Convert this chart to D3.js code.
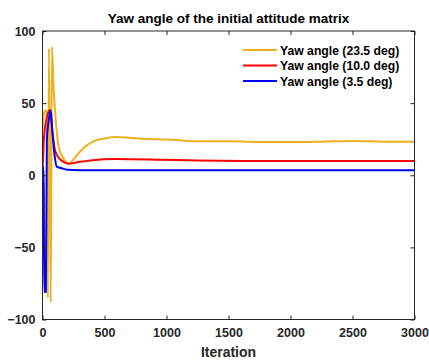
<!DOCTYPE html>
<html><head><meta charset="utf-8">
<script src="https://cdn.jsdelivr.net/npm/d3@7"></script>
<style>body{margin:0;background:#fff}svg{display:block}</style>
</head><body><div id="chart"></div>
<script>
const title = "Yaw angle of the initial attitude matrix";
const xLabel = "Iteration";
const xTicks = [0, 500, 1000, 1500, 2000, 2500, 3000];
const yTicks = [-100, -50, 0, 50, 100];
const seriesNames = ["Yaw angle (23.5 deg)", "Yaw angle (10.0 deg)", "Yaw angle (3.5 deg)"];
const seriesColors = ["#EDB120", "#FF0000", "#0000FF"];

const yawIter235 = [0, 10, 25, 35, 43, 52, 67, 76, 90, 110, 130, 160, 200, 215, 260, 320, 400, 500, 600, 700, 800, 1000, 1250, 1500, 1800, 2000, 2250, 2500, 2800, 3000];
const yawVal235  = [30, 42, 45, 43, -85, 88, -88, 89, 60, 35, 20, 13, 8.5, 8, 12, 18, 23, 25.5, 26.5, 26, 25.3, 24.8, 23.5, 23.5, 23, 23, 23.3, 23.8, 23.2, 23.3];

const yawIter100 = [0, 5, 10, 35, 60, 80, 102, 155, 212, 300, 386, 587, 950, 1250, 1750, 2250, 3000];
const yawVal100  = [5, 12, 24, 40, 45, 30, 17, 10, 8, 9.3, 10.3, 11.3, 10.8, 10.2, 9.9, 9.9, 9.9];

const yawIter35 = [0, 6, 10, 14, 27, 35, 50, 66, 80, 100, 115, 150, 200, 300, 1000, 2000, 3000];
const yawVal35  = [2, 6, -8, -81, -81, 24, 38, 45, 30, 12, 6, 5, 3.8, 3.5, 3.5, 3.5, 3.5];

const series = [
  {name: seriesNames[0], color: seriesColors[0], pts: yawIter235.map((x, i) => ({x, y: yawVal235[i]}))},
  {name: seriesNames[1], color: seriesColors[1], pts: yawIter100.map((x, i) => ({x, y: yawVal100[i]}))},
  {name: seriesNames[2], color: seriesColors[2], pts: yawIter35.map((x, i) => ({x, y: yawVal35[i]}))}
];

const W = 429, H = 360;
const m = {left: 42.5, right: 14.5, top: 31, bottom: 40.5};
const iw = W - m.left - m.right, ih = H - m.top - m.bottom;
const font = "'Liberation Sans', Arial, sans-serif";
const axisColor = "#262626";

const svg = d3.select("#chart").append("svg").attr("width", W).attr("height", H);
const x = d3.scaleLinear().domain([0, 3000]).range([m.left, m.left + iw]);
const y = d3.scaleLinear().domain([-100, 100]).range([m.top + ih, m.top]);

svg.append("defs").append("clipPath").attr("id", "clip")
  .append("rect").attr("x", m.left).attr("y", m.top).attr("width", iw).attr("height", ih);

const line = d3.line().x(d => x(d.x)).y(d => y(d.y)).curve(d3.curveMonotoneX);
const g = svg.append("g").attr("clip-path", "url(#clip)");
series.forEach(s => {
  g.append("path").datum(s.pts).attr("d", line)
    .attr("fill", "none").attr("stroke", s.color).attr("stroke-width", 2).attr("stroke-linejoin", "round");
});

function styleAxis(sel, showText) {
  sel.select(".domain").remove();
  sel.selectAll("line").attr("stroke", axisColor).attr("stroke-width", 1);
  sel.selectAll("text").attr("fill", showText ? axisColor : "none")
    .attr("font-family", font).attr("font-weight", "bold").attr("font-size", "12.5px");
}
const tk = 4;
svg.append("g").attr("transform", `translate(0,${m.top + ih})`)
  .call(d3.axisBottom(x).tickValues(xTicks).tickSize(-tk).tickPadding(9).tickFormat(d3.format("d")))
  .call(s => styleAxis(s, true));
svg.append("g").attr("transform", `translate(0,${m.top})`)
  .call(d3.axisTop(x).tickValues(xTicks).tickSize(-tk).tickFormat(""))
  .call(s => styleAxis(s, false));
svg.append("g").attr("transform", `translate(${m.left},0)`)
  .call(d3.axisLeft(y).tickValues(yTicks).tickSize(-tk).tickPadding(7).tickFormat(d3.format("d")))
  .call(s => styleAxis(s, true));
svg.append("g").attr("transform", `translate(${m.left + iw},0)`)
  .call(d3.axisRight(y).tickValues(yTicks).tickSize(-tk).tickFormat(""))
  .call(s => styleAxis(s, false));

svg.append("rect").attr("x", m.left).attr("y", m.top).attr("width", iw).attr("height", ih)
  .attr("fill", "none").attr("stroke", axisColor).attr("stroke-width", 1);

svg.append("text").attr("x", m.left + iw / 2).attr("y", 23).attr("text-anchor", "middle")
  .attr("font-family", font).attr("font-weight", "bold").attr("font-size", "13.5px").attr("fill", "#000")
  .text(title);
svg.append("text").attr("x", m.left + iw / 2).attr("y", 357).attr("text-anchor", "middle")
  .attr("font-family", font).attr("font-weight", "bold").attr("font-size", "14px").attr("fill", axisColor)
  .text(xLabel);

const lg = svg.append("g");
series.forEach((s, i) => {
  const yy = 50 + i * 15.5;
  lg.append("line").attr("x1", 243).attr("x2", 277).attr("y1", yy).attr("y2", yy)
    .attr("stroke", s.color).attr("stroke-width", 2);
  lg.append("text").attr("x", 280).attr("y", yy + 4.5)
    .attr("font-family", font).attr("font-weight", "bold").attr("font-size", "12.2px").attr("fill", "#000")
    .text(s.name);
});
</script></body></html>
